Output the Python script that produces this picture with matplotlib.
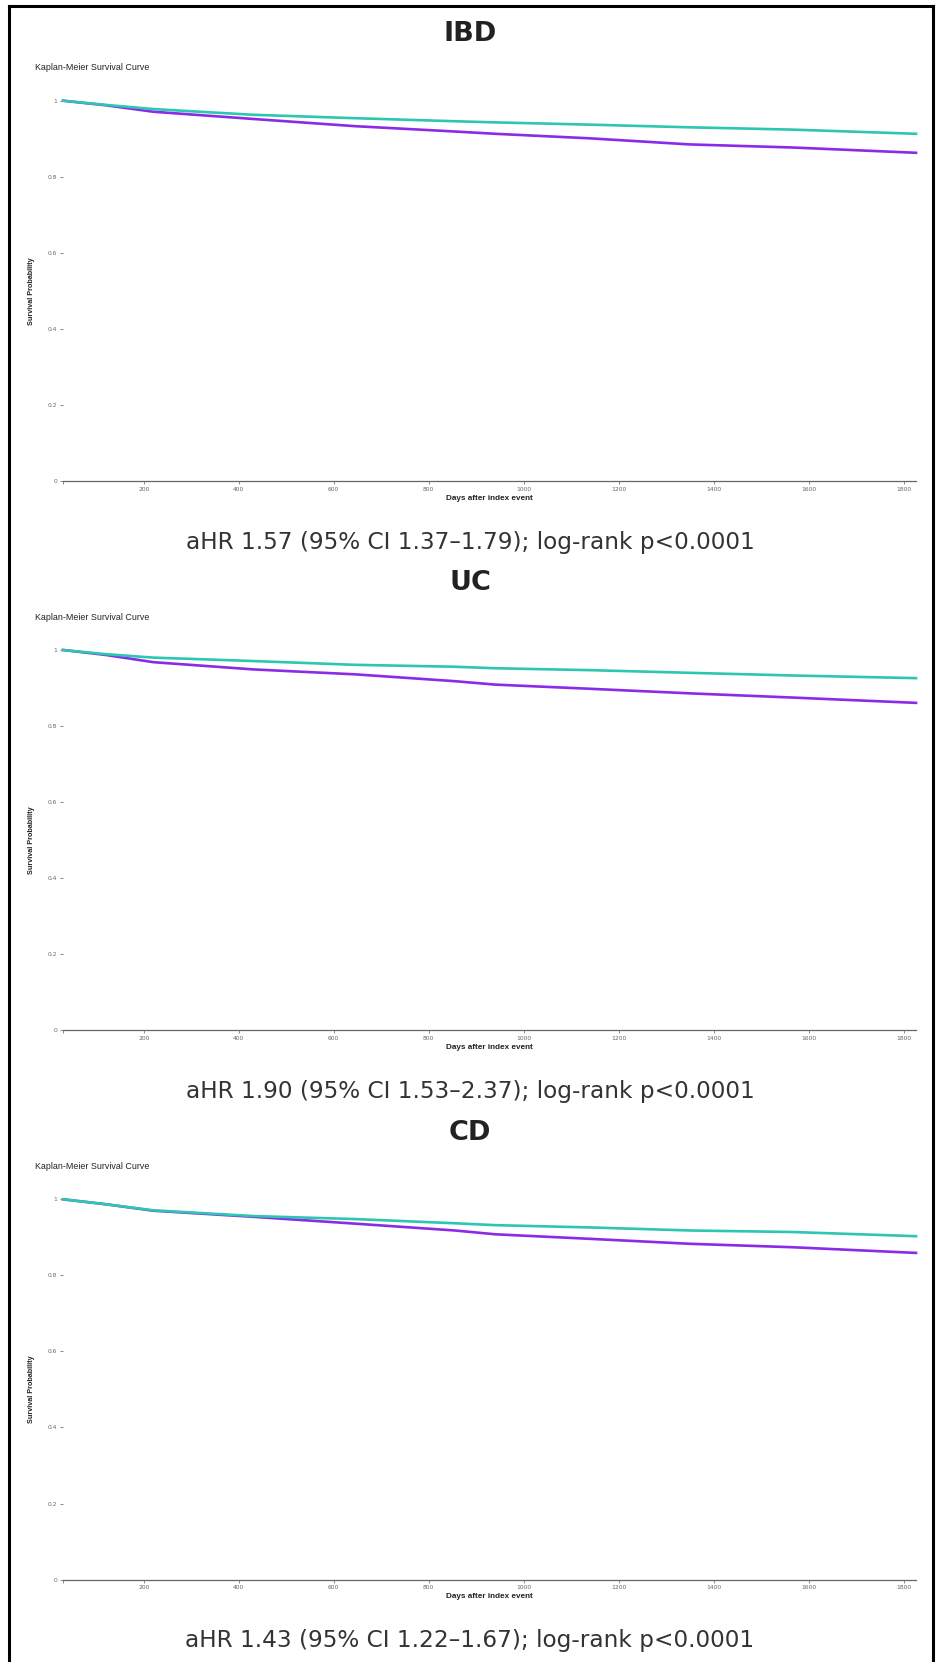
import matplotlib
matplotlib.use("Agg")
import matplotlib.pyplot as plt
from matplotlib.lines import Line2D

# Kaplan-Meier readings (days after index event, survival probability)
days = [30, 120, 220, 430, 645, 855, 940, 1140, 1350, 1565, 1826]

ibd_teal = [1.0, 0.989, 0.978, 0.963, 0.954, 0.946, 0.943, 0.937, 0.930, 0.924, 0.913]
ibd_purple = [1.0, 0.988, 0.971, 0.952, 0.933, 0.919, 0.913, 0.901, 0.885, 0.877, 0.863]

uc_teal = [1.0, 0.989, 0.980, 0.971, 0.961, 0.956, 0.952, 0.947, 0.940, 0.933, 0.926]
uc_purple = [1.0, 0.987, 0.968, 0.949, 0.936, 0.918, 0.909, 0.898, 0.886, 0.875, 0.861]

cd_teal = [1.0, 0.987, 0.971, 0.956, 0.948, 0.937, 0.932, 0.926, 0.918, 0.914, 0.903]
cd_purple = [1.0, 0.987, 0.970, 0.954, 0.936, 0.918, 0.908, 0.896, 0.883, 0.874, 0.859]

titles = ["IBD", "UC", "CD"]
stats = [
    "aHR 1.57 (95% CI 1.37\u20131.79); log-rank p<0.0001",
    "aHR 1.90 (95% CI 1.53\u20132.37); log-rank p<0.0001",
    "aHR 1.43 (95% CI 1.22\u20131.67); log-rank p<0.0001",
]
series = [(ibd_teal, ibd_purple), (uc_teal, uc_purple), (cd_teal, cd_purple)]

x_ticks = [200, 400, 600, 800, 1000, 1200, 1400, 1600, 1800]
y_ticks = [0, 0.2, 0.4, 0.6, 0.8, 1]
y_labels = ["0", "0.2", "0.4", "0.6", "0.8", "1"]

TEAL = "#2cc6b1"
PURPLE = "#8a2be8"

W, H = 939, 1662
fig = plt.figure(figsize=(W / 100, H / 100), dpi=100)

def fy(px):
    return 1 - px / H

panel_step = 549.3
for i in range(3):
    off = i * panel_step
    top, bottom = 100.7 + off, 481 + off
    ax = fig.add_axes([63 / W, fy(bottom), (916 - 63) / W, (bottom - top) / H])
    teal, purple = series[i]
    ax.plot(days, teal, color=TEAL, lw=1.9, clip_on=False, zorder=3)
    ax.plot(days, purple, color=PURPLE, lw=1.9, clip_on=False, zorder=2)
    ax.set_xlim(30, 1826)
    ax.set_ylim(0, 1)
    ax.set_xticks([30] + x_ticks)
    ax.set_xticklabels([""] + [str(t) for t in x_ticks])
    ax.set_yticks(y_ticks)
    ax.set_yticklabels(y_labels)
    for s in ["top", "right", "left"]:
        ax.spines[s].set_visible(False)
    ax.spines["bottom"].set_color("#666666")
    ax.spines["bottom"].set_linewidth(0.9)
    ax.tick_params(axis="both", labelsize=4.3, labelcolor="#666666",
                   color="#777777", length=2.2, width=0.6, pad=2)
    ax.set_xlabel("Days after index event", fontsize=5.9, fontweight="bold",
                  family="Liberation Sans", color="#222222", labelpad=2.2)
    ax.set_ylabel("Survival Probability", fontsize=5.2, fontweight="bold",
                  family="Liberation Sans", color="#222222", labelpad=10)
    ax.yaxis.set_label_coords((35 - 63) / (916 - 63), 0.5)

    fig.text(470 / W, fy(34 + off), titles[i], ha="center", va="center",
             fontsize=19.5, fontweight="bold", color="#222222")
    fig.text(35 / W, fy(68 + off), "Kaplan-Meier Survival Curve", ha="left",
             va="center", fontsize=6.4, fontweight="medium",
             family="Liberation Sans", color="#222222")
    fig.text(470 / W, fy(542 + off), stats[i], ha="center", va="center",
             fontsize=16.7, color="#333333")

# outer frame (open at the bottom edge of the image)
for xs, ys in [([9, 9], [6, H + 5]), ([9, 933], [6, 6]), ([933, 933], [6, H + 5])]:
    fig.add_artist(Line2D([x / W for x in xs], [fy(y) for y in ys],
                          color="black", lw=2.2, transform=fig.transFigure))

fig.savefig("out.png", dpi=100)
